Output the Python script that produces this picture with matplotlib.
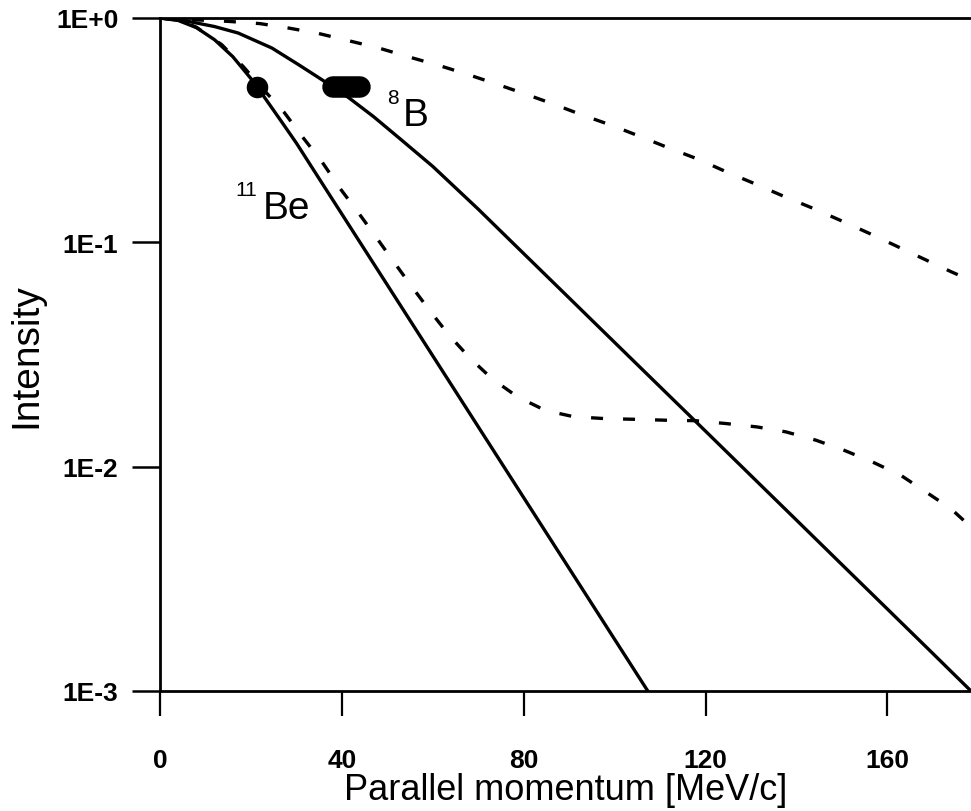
import matplotlib
matplotlib.use("Agg")
import matplotlib.pyplot as plt

# 11Be, solid
be_x = [0, 4, 8, 12, 16, 20, 21.3, 24, 27, 30, 34.5, 40, 50, 60, 70, 80, 90, 100, 107.3]
be_y = [1.0, 0.975, 0.906, 0.80, 0.673, 0.537, 0.495, 0.414, 0.339, 0.277, 0.1995, 0.1337,
        0.0646, 0.0312, 0.01507, 0.00728, 0.00352, 0.0017, 0.001]

# 11Be, dashed
be_dash_x = [0, 4, 8, 13.6, 18.3, 22.5, 27.3, 31.4, 35.6, 39.6, 43.7, 47.4, 51.4, 55.4, 59.5,
             63.7, 68.3, 73, 78.6, 84.8, 91, 98, 104.6, 111.2, 117.8, 124.6, 131.4, 137.7,
             144.3, 150.5, 156.7, 163, 168.5, 174, 178.4]
be_dash_y = [1.0, 0.982, 0.91, 0.76, 0.608, 0.486, 0.380, 0.294, 0.229, 0.174, 0.135, 0.1064,
             0.082, 0.0634, 0.0491, 0.0383, 0.0303, 0.0247, 0.0205, 0.0178, 0.0167, 0.01637,
             0.01626, 0.01611, 0.01603, 0.01556, 0.01503, 0.01429, 0.01312, 0.01183, 0.0105,
             0.00914, 0.00771, 0.00649, 0.00538]

# 8B, solid
b_x = [0, 6, 12, 17.2, 24.6, 30.5, 35.6, 41.5, 47, 53.2, 60, 70, 80, 90, 100, 110, 120, 130,
       140, 150, 160, 170, 178.4]
b_y = [1.0, 0.968, 0.916, 0.857, 0.735, 0.619, 0.531, 0.4416, 0.363, 0.285, 0.218, 0.1406,
       0.0891, 0.0565, 0.0358, 0.0227, 0.0144, 0.00912, 0.00578, 0.00366, 0.00232, 0.00147, 0.001]

# 8B, dashed
b_dash_x = [0, 7.7, 15, 22, 28.3, 34.9, 41.5, 48.1, 54.7, 61.3, 67.5, 74.1, 80.4, 86.6, 92.8,
            99.4, 105.7, 112, 118.2, 124.4, 130.7, 136.9, 143.2, 149.4, 155.7, 161.5, 167.7,
            174, 178.4]
b_dash_y = [1.0, 0.982, 0.966, 0.944, 0.902, 0.853, 0.792, 0.735, 0.671, 0.615, 0.562, 0.507,
            0.458, 0.413, 0.370, 0.332, 0.296, 0.263, 0.2355, 0.207, 0.183, 0.1614, 0.143,
            0.126, 0.1104, 0.0973, 0.0849, 0.074, 0.0676]

# half-maximum markers
be_half_x = [21.3]
be_half_y = [0.495]
b_half_x = [38.0, 43.9]
b_half_y = [0.492, 0.492]

x_ticks = [0, 40, 80, 120, 160]
y_ticks = [1, 0.1, 0.01, 0.001]
y_tick_labels = ["1E+0", "1E-1", "1E-2", "1E-3"]

plt.rcParams['font.family'] = ['Liberation Sans', 'DejaVu Sans']

fig = plt.figure(figsize=(9.71, 8.12), dpi=100)
ax = fig.add_axes([160/971, 1 - 692/812, 811/971, (692 - 19)/812])

lw = 2.4
dash = (3.6, 6.0)
ax.plot(be_x, be_y, color='black', lw=lw)
ax.plot(b_x, b_y, color='black', lw=lw)
ax.plot(be_dash_x, be_dash_y, color='black', lw=lw, dashes=dash)
ax.plot(b_dash_x, b_dash_y, color='black', lw=lw, dashes=dash)

ax.plot(be_half_x, be_half_y, 'o', color='black', markersize=14.5)
ax.plot(b_half_x, b_half_y, color='black', lw=15.5, solid_capstyle='round')

# curve labels
ax.text(16.5, 0.162, "11", fontsize=15, ha='left', va='baseline')
ax.text(22.5, 0.128, "Be", fontsize=28, ha='left', va='baseline')
ax.text(50.0, 0.418, "8", fontsize=15, ha='left', va='baseline')
ax.text(53.3, 0.333, "B", fontsize=28, ha='left', va='baseline')

ax.set_yscale('log')
ax.set_xlim(0, 178.4)
ax.set_ylim(0.001, 1.0)
ax.set_xticks(x_ticks)
ax.set_xticklabels([str(t) for t in x_ticks], fontsize=19, fontweight='bold')
ax.set_yticks(y_ticks)
ax.set_yticklabels(y_tick_labels, fontsize=19, fontweight='bold')
ax.yaxis.set_minor_locator(matplotlib.ticker.NullLocator())

ax.tick_params(axis='x', direction='out', length=18, width=1.6, pad=23)
ax.tick_params(axis='y', direction='out', length=20, width=1.8, pad=10)

for s in ['left', 'bottom', 'top']:
    ax.spines[s].set_linewidth(2.0)
ax.spines['right'].set_visible(False)

ax.set_xlabel("Parallel momentum [MeV/c]", fontsize=26)
ax.xaxis.set_label_coords(0.5, -(773 - 692) / 673)
ax.set_ylabel("Intensity", fontsize=28, labelpad=8)

fig.savefig("out.png", dpi=100)
